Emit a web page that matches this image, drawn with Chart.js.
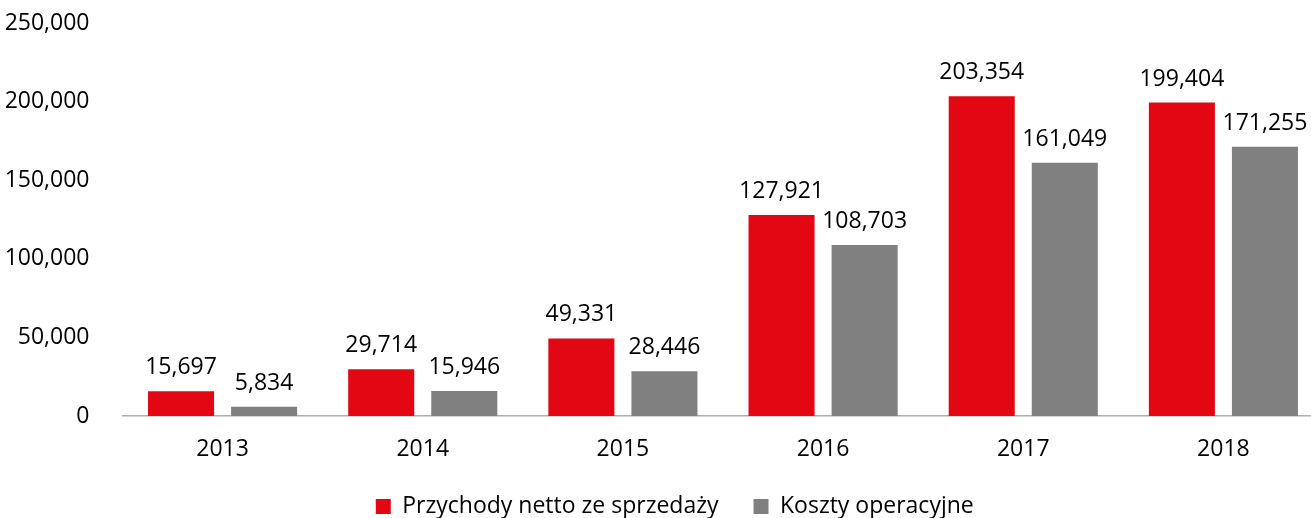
<!DOCTYPE html>
<html>
<head>
<meta charset="utf-8">
<script src="https://cdn.jsdelivr.net/npm/chart.js@4"></script>
<style>
  html, body { margin: 0; padding: 0; background: #fff; overflow: hidden; }
  #wrap { width: 1351px; height: 528px; position: relative; }
</style>
</head>
<body>
<div id="wrap"><canvas id="myChart"></canvas></div>
<script>
// dane
const lata = ["2013", "2014", "2015", "2016", "2017", "2018"];
const przychody = [15697, 29714, 49331, 127921, 203354, 199404];
const koszty = [5834, 15946, 28446, 108703, 161049, 171255];
const etykietySerii = ["Przychody netto ze sprzedaży", "Koszty operacyjne"];

const czcionka = "'Open Sans', 'Noto Sans', sans-serif";

// etykiety nad slupkami (bez pluginu datalabels)
const etykiety = {
  id: "etykiety",
  afterDatasetsDraw(chart) {
    const ctx = chart.ctx;
    ctx.save();
    ctx.font = "23px " + czcionka;
    ctx.fillStyle = "#000";
    ctx.textAlign = "center";
    ctx.textBaseline = "alphabetic";
    chart.data.datasets.forEach((ds, i) => {
      chart.getDatasetMeta(i).data.forEach((bar, j) => {
        ctx.fillText(ds.data[j].toLocaleString("en-US"), bar.x, bar.y - 17);
      });
    });
    ctx.restore();
  },
};

// przesuniecie legendy troche w prawo
const przesunLegende = {
  id: "przesunLegende",
  afterLayout(chart) {
    if (chart.legend) {
      chart.legend.left += 13;
      chart.legend.right += 13;
    }
  },
};

const ctx = document.getElementById("myChart").getContext("2d");
const myChart = new Chart(ctx, {
  type: "bar",
  data: {
    labels: lata,
    datasets: [
      {
        label: etykietySerii[0],
        data: przychody,
        backgroundColor: "#e30613",
        categoryPercentage: 0.83,
        barPercentage: 0.795,
      },
      {
        label: etykietySerii[1],
        data: koszty,
        backgroundColor: "#808080",
        categoryPercentage: 0.83,
        barPercentage: 0.795,
      },
    ],
  },
  options: {
    responsive: true,
    maintainAspectRatio: false,
    animation: false,
    layout: { padding: { left: 0, right: 27.5, top: 23, bottom: 0 } },
    plugins: {
      tooltip: { enabled: false },
      legend: {
        position: "bottom",
        labels: {
          boxWidth: 15,
          boxHeight: 15,
          padding: 35,
          color: "#000",
          font: { family: czcionka, size: 23 },
        },
      },
    },
    scales: {
      x: {
        grid: { display: false },
        border: { display: true, color: "#b0b0b0", width: 1.5 },
        afterFit(scale) { scale.height = 44; },
        ticks: { color: "#000", padding: 12, font: { family: czcionka, size: 23 } },
      },
      y: {
        min: 0,
        max: 250000,
        grid: { display: false },
        border: { display: false },
        afterFit(scale) {
          scale.width = 122.5;
          scale.paddingTop = 0;
          scale.paddingBottom = 0;
        },
        ticks: {
          stepSize: 50000,
          padding: 25,
          color: "#000",
          font: { family: czcionka, size: 23 },
          callback: (v) => v.toLocaleString("en-US"),
        },
      },
    },
  },
  plugins: [etykiety, przesunLegende],
});
</script>
</body>
</html>
